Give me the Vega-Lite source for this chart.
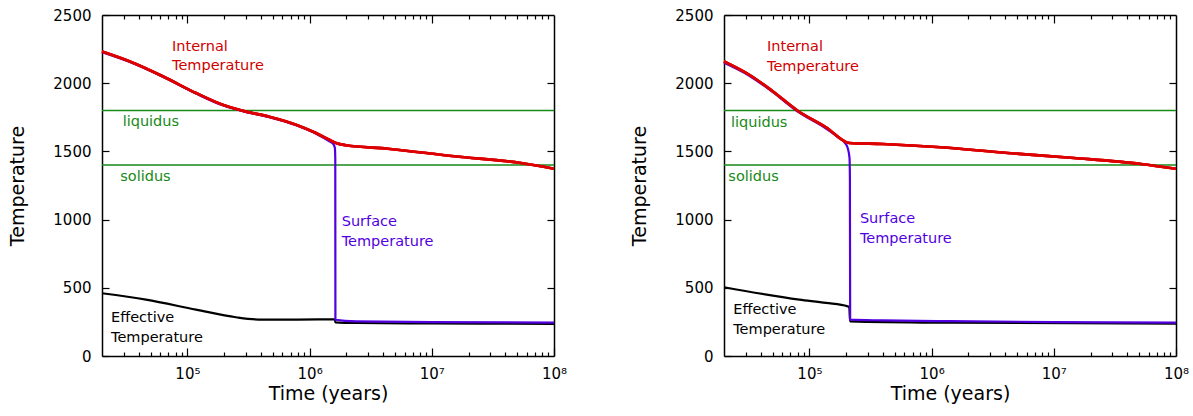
{
  "$schema": "https://vega.github.io/schema/vega-lite/v6.json",
  "padding": {"left": 8, "top": 8, "right": 5, "bottom": 5},
  "bounds": "flush",
  "config": {
    "view": {"stroke": null},
    "font": "DejaVu Sans",
    "concat": {"spacing": 170},
    "axis": {
      "grid": false, "domainColor": "black", "domainWidth": 1.5, "tickColor": "black", "tickWidth": 1.2, "ticks": true,
      "labelColor": "black", "titleColor": "black", "labelFont": "DejaVu Sans", "titleFont": "DejaVu Sans",
      "titleFontWeight": "normal", "labelFontSize": 15, "titleFontSize": 19, "labelFlush": false, "labelOverlap": false
    }
  },
  "datasets": {
    "curves": [
      {"panel": 1, "series": "eff", "time": 20000, "temp": 460},
      {"panel": 1, "series": "eff", "time": 45800, "temp": 413},
      {"panel": 1, "series": "eff", "time": 117500, "temp": 340},
      {"panel": 1, "series": "eff", "time": 250000, "temp": 284},
      {"panel": 1, "series": "eff", "time": 413000, "temp": 266},
      {"panel": 1, "series": "eff", "time": 800000, "temp": 267},
      {"panel": 1, "series": "eff", "time": 1610000, "temp": 269},
      {"panel": 1, "series": "eff", "time": 1625000, "temp": 247},
      {"panel": 1, "series": "eff", "time": 2400000, "temp": 242},
      {"panel": 1, "series": "eff", "time": 9500000, "temp": 239},
      {"panel": 1, "series": "eff", "time": 100000000, "temp": 236},

      {"panel": 1, "series": "surf", "time": 20000, "temp": 2228},
      {"panel": 1, "series": "surf", "time": 33450, "temp": 2157},
      {"panel": 1, "series": "surf", "time": 62800, "temp": 2047},
      {"panel": 1, "series": "surf", "time": 117500, "temp": 1924},
      {"panel": 1, "series": "surf", "time": 194000, "temp": 1838},
      {"panel": 1, "series": "surf", "time": 283000, "temp": 1795},
      {"panel": 1, "series": "surf", "time": 468000, "temp": 1750},
      {"panel": 1, "series": "surf", "time": 774000, "temp": 1692},
      {"panel": 1, "series": "surf", "time": 1128000, "temp": 1630},
      {"panel": 1, "series": "surf", "time": 1450000, "temp": 1574},
      {"panel": 1, "series": "surf", "time": 1562000, "temp": 1554},
      {"panel": 1, "series": "surf", "time": 1610000, "temp": 1525},
      {"panel": 1, "series": "surf", "time": 1622000, "temp": 1450},
      {"panel": 1, "series": "surf", "time": 1626000, "temp": 266},
      {"panel": 1, "series": "surf", "time": 2400000, "temp": 254},
      {"panel": 1, "series": "surf", "time": 10000000, "temp": 249},
      {"panel": 1, "series": "surf", "time": 100000000, "temp": 245},

      {"panel": 1, "series": "int", "time": 20000, "temp": 2232},
      {"panel": 1, "series": "int", "time": 33450, "temp": 2161},
      {"panel": 1, "series": "int", "time": 62800, "temp": 2051},
      {"panel": 1, "series": "int", "time": 117500, "temp": 1928},
      {"panel": 1, "series": "int", "time": 194000, "temp": 1842},
      {"panel": 1, "series": "int", "time": 283000, "temp": 1798},
      {"panel": 1, "series": "int", "time": 468000, "temp": 1754},
      {"panel": 1, "series": "int", "time": 774000, "temp": 1696},
      {"panel": 1, "series": "int", "time": 1128000, "temp": 1635},
      {"panel": 1, "series": "int", "time": 1450000, "temp": 1586},
      {"panel": 1, "series": "int", "time": 1644000, "temp": 1562},
      {"panel": 1, "series": "int", "time": 1990000, "temp": 1545},
      {"panel": 1, "series": "int", "time": 4360000, "temp": 1520},
      {"panel": 1, "series": "int", "time": 15300000, "temp": 1464},
      {"panel": 1, "series": "int", "time": 53700000, "temp": 1415},
      {"panel": 1, "series": "int", "time": 100000000, "temp": 1373},

      {"panel": 2, "series": "eff", "time": 20000, "temp": 504},
      {"panel": 2, "series": "eff", "time": 82600, "temp": 413},
      {"panel": 2, "series": "eff", "time": 136700, "temp": 389},
      {"panel": 2, "series": "eff", "time": 205700, "temp": 364},
      {"panel": 2, "series": "eff", "time": 212000, "temp": 358},
      {"panel": 2, "series": "eff", "time": 215000, "temp": 254},
      {"panel": 2, "series": "eff", "time": 1400000, "temp": 244},
      {"panel": 2, "series": "eff", "time": 100000000, "temp": 237},

      {"panel": 2, "series": "surf", "time": 20000, "temp": 2150},
      {"panel": 2, "series": "surf", "time": 32200, "temp": 2055},
      {"panel": 2, "series": "surf", "time": 50100, "temp": 1935},
      {"panel": 2, "series": "surf", "time": 80200, "temp": 1792},
      {"panel": 2, "series": "surf", "time": 136700, "temp": 1668},
      {"panel": 2, "series": "surf", "time": 175600, "temp": 1598},
      {"panel": 2, "series": "surf", "time": 194300, "temp": 1565},
      {"panel": 2, "series": "surf", "time": 205700, "temp": 1525},
      {"panel": 2, "series": "surf", "time": 212900, "temp": 1452},
      {"panel": 2, "series": "surf", "time": 214500, "temp": 1300},
      {"panel": 2, "series": "surf", "time": 215500, "temp": 266},
      {"panel": 2, "series": "surf", "time": 400000, "temp": 261},
      {"panel": 2, "series": "surf", "time": 1400000, "temp": 255},
      {"panel": 2, "series": "surf", "time": 10000000, "temp": 249},
      {"panel": 2, "series": "surf", "time": 100000000, "temp": 245},

      {"panel": 2, "series": "int", "time": 20000, "temp": 2160},
      {"panel": 2, "series": "int", "time": 32200, "temp": 2062},
      {"panel": 2, "series": "int", "time": 50100, "temp": 1941},
      {"panel": 2, "series": "int", "time": 80200, "temp": 1798},
      {"panel": 2, "series": "int", "time": 136700, "temp": 1677},
      {"panel": 2, "series": "int", "time": 212000, "temp": 1562},
      {"panel": 2, "series": "int", "time": 398000, "temp": 1554},
      {"panel": 2, "series": "int", "time": 1190000, "temp": 1530},
      {"panel": 2, "series": "int", "time": 4190000, "temp": 1488},
      {"panel": 2, "series": "int", "time": 14600000, "temp": 1452},
      {"panel": 2, "series": "int", "time": 51700000, "temp": 1408},
      {"panel": 2, "series": "int", "time": 100000000, "temp": 1373}
    ],
    "levels": [
      {"name": "liquidus", "level": 1800},
      {"name": "solidus", "level": 1400}
    ],
    "labels": [
      {"panel": 1, "kind": "internal", "label": "Internal", "time": 74800, "temp": 2236},
      {"panel": 1, "kind": "internal", "label": "Temperature", "time": 74800, "temp": 2097},
      {"panel": 1, "kind": "liquidus", "label": "liquidus", "time": 29500, "temp": 1684},
      {"panel": 1, "kind": "solidus", "label": "solidus", "time": 28200, "temp": 1281},
      {"panel": 1, "kind": "surface", "label": "Surface", "time": 1830000, "temp": 951},
      {"panel": 1, "kind": "surface", "label": "Temperature", "time": 1830000, "temp": 804},
      {"panel": 1, "kind": "effective", "label": "Effective", "time": 23700, "temp": 249},
      {"panel": 1, "kind": "effective", "label": "Temperature", "time": 23700, "temp": 100},
      {"panel": 2, "kind": "internal", "label": "Internal", "time": 45000, "temp": 2236},
      {"panel": 2, "kind": "internal", "label": "Temperature", "time": 45000, "temp": 2092},
      {"panel": 2, "kind": "liquidus", "label": "liquidus", "time": 22800, "temp": 1681},
      {"panel": 2, "kind": "solidus", "label": "solidus", "time": 21700, "temp": 1283},
      {"panel": 2, "kind": "surface", "label": "Surface", "time": 259000, "temp": 975},
      {"panel": 2, "kind": "surface", "label": "Temperature", "time": 259000, "temp": 828},
      {"panel": 2, "kind": "effective", "label": "Effective", "time": 23800, "temp": 308},
      {"panel": 2, "kind": "effective", "label": "Temperature", "time": 23800, "temp": 161}
    ]
  },
  "hconcat": [
    {
      "width": 452, "height": 341,
      "resolve": {"axis": {"x": "independent", "y": "independent"}},
      "layer": [
        {
          "data": {"name": "levels"},
          "mark": {"type": "rule", "color": "#178a17", "strokeWidth": 1.6},
          "encoding": {"y": {"field": "level", "type": "quantitative", "scale": {"domain": [0, 2500], "nice": false, "zero": false},
            "axis": {"orient": "right", "title": null, "labels": false, "domain": false, "values": [500, 1000, 1500, 2000], "tickSize": 7, "offset": -7}}}
        },
        {
          "data": {"name": "curves"},
          "transform": [{"filter": "datum.panel == 1 && datum.series == 'eff'"}],
          "mark": {"type": "line", "color": "black", "strokeWidth": 2.2, "interpolate": "monotone"},
          "encoding": {
            "x": {"field": "time", "type": "quantitative", "scale": {"type": "log", "domain": [20000, 100000000], "nice": false},
              "axis": {"orient": "bottom", "title": "Time (years)", "titlePadding": 3, "domain": false,
                "values": [100000, 1000000, 10000000, 100000000],
                "labelExpr": "datum.value == 100000 ? '10⁵' : datum.value == 1000000 ? '10⁶' : datum.value == 10000000 ? '10⁷' : '10⁸'",
                "tickSize": 8, "offset": -8, "labelPadding": 10}},
            "y": {"field": "temp", "type": "quantitative", "scale": {"domain": [0, 2500], "nice": false, "zero": false},
              "axis": {"orient": "left", "title": "Temperature", "format": "d", "domain": false, "values": [0, 500, 1000, 1500, 2000, 2500], "tickSize": 7, "offset": -7, "labelPadding": 11, "titlePadding": 25}},
            "order": {"value": null}
          }
        },
        {
          "data": {"name": "curves"},
          "transform": [{"filter": "datum.panel == 1 && datum.series == 'surf'"}],
          "mark": {"type": "line", "color": "#5200e0", "strokeWidth": 2.2, "interpolate": "monotone"},
          "encoding": {
            "x": {"field": "time", "type": "quantitative", "scale": {"type": "log", "domain": [20000, 100000000], "nice": false},
              "axis": {"orient": "bottom", "title": null, "labels": false, "domain": false, "tickSize": 4, "offset": -4,
                "values": [30000,40000,50000,60000,70000,80000,90000,200000,300000,400000,500000,600000,700000,800000,900000,2000000,3000000,4000000,5000000,6000000,7000000,8000000,9000000,20000000,30000000,40000000,50000000,60000000,70000000,80000000,90000000]}},
            "y": {"field": "temp", "type": "quantitative", "scale": {"domain": [0, 2500], "nice": false, "zero": false},
              "axis": {"orient": "left", "title": null, "labels": false, "ticks": false, "domain": true}},
            "order": {"value": null}
          }
        },
        {
          "data": {"name": "curves"},
          "transform": [{"filter": "datum.panel == 1 && datum.series == 'int'"}],
          "mark": {"type": "line", "color": "#dd0000", "strokeWidth": 2.6, "interpolate": "monotone"},
          "encoding": {
            "x": {"field": "time", "type": "quantitative", "scale": {"type": "log", "domain": [20000, 100000000], "nice": false},
              "axis": {"orient": "top", "title": null, "labels": false, "domain": false, "tickSize": 4, "offset": -4,
                "values": [30000,40000,50000,60000,70000,80000,90000,200000,300000,400000,500000,600000,700000,800000,900000,2000000,3000000,4000000,5000000,6000000,7000000,8000000,9000000,20000000,30000000,40000000,50000000,60000000,70000000,80000000,90000000]}},
            "y": {"field": "temp", "type": "quantitative", "scale": {"domain": [0, 2500], "nice": false, "zero": false},
              "axis": {"orient": "right", "title": null, "labels": false, "ticks": false, "domain": true}},
            "order": {"value": null}
          }
        },
        {
          "data": {"name": "curves"},
          "transform": [{"filter": "datum.panel == 1 && datum.series == 'int'"}],
          "mark": {"type": "line", "color": "#dd0000", "strokeWidth": 2.6, "interpolate": "monotone"},
          "encoding": {
            "x": {"field": "time", "type": "quantitative", "scale": {"type": "log", "domain": [20000, 100000000], "nice": false},
              "axis": {"orient": "bottom", "title": null, "labels": false, "ticks": false, "domain": true}},
            "y": {"field": "temp", "type": "quantitative", "scale": {"domain": [0, 2500], "nice": false, "zero": false}, "axis": null},
            "order": {"value": null}
          }
        },
        {
          "data": {"name": "curves"},
          "transform": [{"filter": "datum.panel == 1 && datum.series == 'int'"}],
          "mark": {"type": "line", "color": "#dd0000", "strokeWidth": 2.6, "interpolate": "monotone"},
          "encoding": {
            "x": {"field": "time", "type": "quantitative", "scale": {"type": "log", "domain": [20000, 100000000], "nice": false},
              "axis": {"orient": "top", "title": null, "labels": false, "ticks": false, "domain": true}},
            "y": {"field": "temp", "type": "quantitative", "scale": {"domain": [0, 2500], "nice": false, "zero": false}, "axis": null},
            "order": {"value": null}
          }
        },
        {
          "data": {"name": "labels"},
          "transform": [{"filter": "datum.panel == 1"}],
          "mark": {"type": "text", "align": "left", "baseline": "alphabetic", "fontSize": 14.5, "font": "DejaVu Sans"},
          "encoding": {
            "x": {"field": "time", "type": "quantitative", "scale": {"type": "log", "domain": [20000, 100000000], "nice": false},
              "axis": {"orient": "top", "title": null, "labels": false, "domain": false, "values": [100000, 1000000, 10000000], "tickSize": 8, "offset": -8}},
            "y": {"field": "temp", "type": "quantitative", "scale": {"domain": [0, 2500], "nice": false, "zero": false}, "axis": null},
            "text": {"field": "label", "type": "nominal"},
            "color": {"field": "kind", "type": "nominal", "legend": null,
              "scale": {"domain": ["internal", "liquidus", "solidus", "surface", "effective"], "range": ["#d00000", "#178a17", "#178a17", "#5200e0", "#000000"]}}
          }
        }
      ]
    },
    {
      "width": 452, "height": 341,
      "resolve": {"axis": {"x": "independent", "y": "independent"}},
      "layer": [
        {
          "data": {"name": "levels"},
          "mark": {"type": "rule", "color": "#178a17", "strokeWidth": 1.6},
          "encoding": {"y": {"field": "level", "type": "quantitative", "scale": {"domain": [0, 2500], "nice": false, "zero": false},
            "axis": {"orient": "right", "title": null, "labels": false, "domain": false, "values": [500, 1000, 1500, 2000], "tickSize": 7, "offset": -7}}}
        },
        {
          "data": {"name": "curves"},
          "transform": [{"filter": "datum.panel == 2 && datum.series == 'eff'"}],
          "mark": {"type": "line", "color": "black", "strokeWidth": 2.2, "interpolate": "monotone"},
          "encoding": {
            "x": {"field": "time", "type": "quantitative", "scale": {"type": "log", "domain": [20000, 100000000], "nice": false},
              "axis": {"orient": "bottom", "title": "Time (years)", "titlePadding": 3, "domain": false,
                "values": [100000, 1000000, 10000000, 100000000],
                "labelExpr": "datum.value == 100000 ? '10⁵' : datum.value == 1000000 ? '10⁶' : datum.value == 10000000 ? '10⁷' : '10⁸'",
                "tickSize": 8, "offset": -8, "labelPadding": 10}},
            "y": {"field": "temp", "type": "quantitative", "scale": {"domain": [0, 2500], "nice": false, "zero": false},
              "axis": {"orient": "left", "title": "Temperature", "format": "d", "domain": false, "values": [0, 500, 1000, 1500, 2000, 2500], "tickSize": 7, "offset": -7, "labelPadding": 11, "titlePadding": 25}},
            "order": {"value": null}
          }
        },
        {
          "data": {"name": "curves"},
          "transform": [{"filter": "datum.panel == 2 && datum.series == 'surf'"}],
          "mark": {"type": "line", "color": "#5200e0", "strokeWidth": 2.2, "interpolate": "monotone"},
          "encoding": {
            "x": {"field": "time", "type": "quantitative", "scale": {"type": "log", "domain": [20000, 100000000], "nice": false},
              "axis": {"orient": "bottom", "title": null, "labels": false, "domain": false, "tickSize": 4, "offset": -4,
                "values": [30000,40000,50000,60000,70000,80000,90000,200000,300000,400000,500000,600000,700000,800000,900000,2000000,3000000,4000000,5000000,6000000,7000000,8000000,9000000,20000000,30000000,40000000,50000000,60000000,70000000,80000000,90000000]}},
            "y": {"field": "temp", "type": "quantitative", "scale": {"domain": [0, 2500], "nice": false, "zero": false},
              "axis": {"orient": "left", "title": null, "labels": false, "ticks": false, "domain": true}},
            "order": {"value": null}
          }
        },
        {
          "data": {"name": "curves"},
          "transform": [{"filter": "datum.panel == 2 && datum.series == 'int'"}],
          "mark": {"type": "line", "color": "#dd0000", "strokeWidth": 2.6, "interpolate": "monotone"},
          "encoding": {
            "x": {"field": "time", "type": "quantitative", "scale": {"type": "log", "domain": [20000, 100000000], "nice": false},
              "axis": {"orient": "top", "title": null, "labels": false, "domain": false, "tickSize": 4, "offset": -4,
                "values": [30000,40000,50000,60000,70000,80000,90000,200000,300000,400000,500000,600000,700000,800000,900000,2000000,3000000,4000000,5000000,6000000,7000000,8000000,9000000,20000000,30000000,40000000,50000000,60000000,70000000,80000000,90000000]}},
            "y": {"field": "temp", "type": "quantitative", "scale": {"domain": [0, 2500], "nice": false, "zero": false},
              "axis": {"orient": "right", "title": null, "labels": false, "ticks": false, "domain": true}},
            "order": {"value": null}
          }
        },
        {
          "data": {"name": "curves"},
          "transform": [{"filter": "datum.panel == 2 && datum.series == 'int'"}],
          "mark": {"type": "line", "color": "#dd0000", "strokeWidth": 2.6, "interpolate": "monotone"},
          "encoding": {
            "x": {"field": "time", "type": "quantitative", "scale": {"type": "log", "domain": [20000, 100000000], "nice": false},
              "axis": {"orient": "bottom", "title": null, "labels": false, "ticks": false, "domain": true}},
            "y": {"field": "temp", "type": "quantitative", "scale": {"domain": [0, 2500], "nice": false, "zero": false}, "axis": null},
            "order": {"value": null}
          }
        },
        {
          "data": {"name": "curves"},
          "transform": [{"filter": "datum.panel == 2 && datum.series == 'int'"}],
          "mark": {"type": "line", "color": "#dd0000", "strokeWidth": 2.6, "interpolate": "monotone"},
          "encoding": {
            "x": {"field": "time", "type": "quantitative", "scale": {"type": "log", "domain": [20000, 100000000], "nice": false},
              "axis": {"orient": "top", "title": null, "labels": false, "ticks": false, "domain": true}},
            "y": {"field": "temp", "type": "quantitative", "scale": {"domain": [0, 2500], "nice": false, "zero": false}, "axis": null},
            "order": {"value": null}
          }
        },
        {
          "data": {"name": "labels"},
          "transform": [{"filter": "datum.panel == 2"}],
          "mark": {"type": "text", "align": "left", "baseline": "alphabetic", "fontSize": 14.5, "font": "DejaVu Sans"},
          "encoding": {
            "x": {"field": "time", "type": "quantitative", "scale": {"type": "log", "domain": [20000, 100000000], "nice": false},
              "axis": {"orient": "top", "title": null, "labels": false, "domain": false, "values": [100000, 1000000, 10000000], "tickSize": 8, "offset": -8}},
            "y": {"field": "temp", "type": "quantitative", "scale": {"domain": [0, 2500], "nice": false, "zero": false}, "axis": null},
            "text": {"field": "label", "type": "nominal"},
            "color": {"field": "kind", "type": "nominal", "legend": null,
              "scale": {"domain": ["internal", "liquidus", "solidus", "surface", "effective"], "range": ["#d00000", "#178a17", "#178a17", "#5200e0", "#000000"]}}
          }
        }
      ]
    }
  ]
}
